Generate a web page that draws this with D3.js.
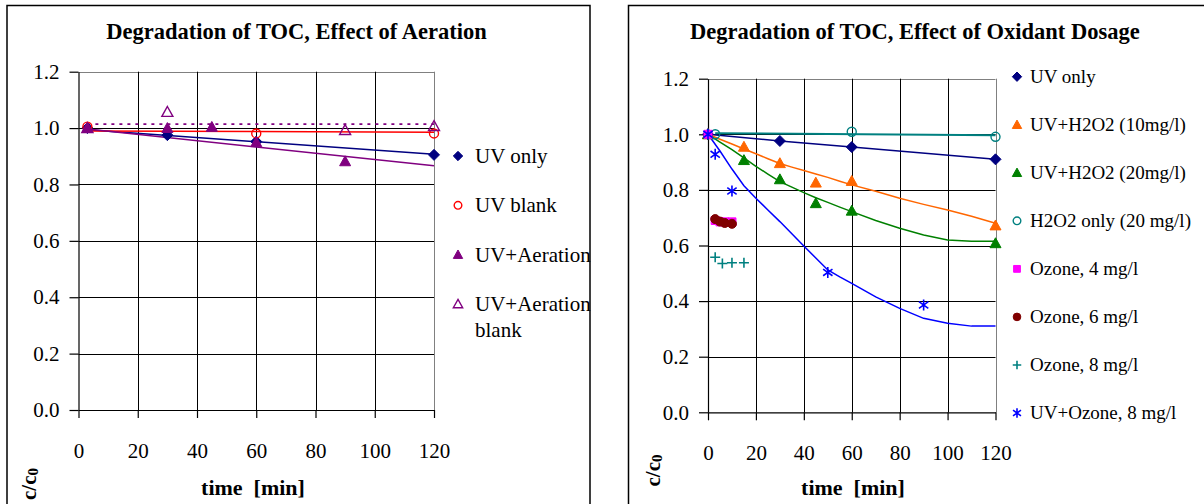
<!DOCTYPE html>
<html>
<head>
<meta charset="utf-8">
<script src="https://cdn.jsdelivr.net/npm/d3@7"></script>
<style>
  body { margin: 0; background: #fff; }
</style>
</head>
<body>
<div id="chart"></div>
<script>
var fontStack = "'Liberation Serif', Tinos, 'Times New Roman', Times, 'DejaVu Serif', serif";

// ---- tick labels
var xTicks = [0, 20, 40, 60, 80, 100, 120];
var yTicks = [0, 0.2, 0.4, 0.6, 0.8, 1.0, 1.2];

// ---- left chart: effect of aeration
var aerNames = ["UV only", "UV blank", "UV+Aeration", "UV+Aeration blank"];
var aerUvOnlyT = [3, 30, 60, 120];
var aerUvOnlyV = [1.0, 0.975, 0.952, 0.905];
var aerUvBlankT = [3, 60, 120];
var aerUvBlankV = [1.005, 0.981, 0.981];
var aerAirT = [3, 30, 45, 60, 90];
var aerAirV = [1.0, 1.0, 1.004, 0.95, 0.882];
var aerAirBlankT = [3, 30, 90, 120];
var aerAirBlankV = [1.0, 1.057, 0.993, 1.007];
// trend lines
var aerTrendT = [3, 120];
var aerUvOnlyTrend = [0.994, 0.907];
var aerUvBlankTrend = [0.99, 0.985];
var aerAirTrend = [0.997, 0.866];
var aerAirBlankTrend = [1.014, 1.014];

// ---- right chart: effect of oxidant dosage
var oxNames = ["UV only", "UV+H2O2 (10mg/l)", "UV+H2O2 (20mg/l)", "H2O2 only (20 mg/l)",
               "Ozone, 4 mg/l", "Ozone, 6 mg/l", "Ozone, 8 mg/l", "UV+Ozone, 8 mg/l"];
var oxUvOnlyT = [0, 30, 60, 120];
var oxUvOnlyV = [1.0, 0.976, 0.954, 0.91];
var oxH10T = [0, 15, 30, 45, 60, 120];
var oxH10V = [1.0, 0.955, 0.896, 0.826, 0.832, 0.672];
var oxH20T = [0, 15, 30, 45, 60, 120];
var oxH20V = [1.0, 0.907, 0.838, 0.752, 0.725, 0.608];
var oxH2O2T = [3, 60, 120];
var oxH2O2V = [1.0, 1.009, 0.991];
var oxOz4T = [0, 3, 5, 7, 10];
var oxOz4V = [1.0, 0.69, 0.685, 0.685, 0.685];
var oxOz6T = [3, 5, 7, 10];
var oxOz6V = [0.695, 0.686, 0.681, 0.678];
var oxOz8T = [3, 6, 10, 15];
var oxOz8V = [0.558, 0.535, 0.538, 0.538];
var oxUvOzT = [0, 3, 10, 50, 90];
var oxUvOzV = [1.0, 0.928, 0.796, 0.503, 0.386];
// fitted curves
var fitT = [0, 5, 10, 15, 20, 25, 30, 35, 40, 45, 50, 55, 60, 70, 80, 90, 100, 110, 120];
var fitH10 = [1.0, 0.982, 0.965, 0.947, 0.93, 0.912, 0.895, 0.882, 0.87, 0.857, 0.845, 0.831, 0.818, 0.795, 0.77, 0.748, 0.728, 0.705, 0.68];
var fitH20 = [1.0, 0.972, 0.945, 0.915, 0.885, 0.857, 0.83, 0.81, 0.79, 0.772, 0.755, 0.738, 0.722, 0.69, 0.662, 0.638, 0.62, 0.615, 0.615];
var fitUvOz = [1.0, 0.94, 0.875, 0.815, 0.77, 0.728, 0.686, 0.642, 0.598, 0.555, 0.512, 0.487, 0.464, 0.415, 0.374, 0.338, 0.32, 0.31, 0.31];
var oxH2O2TrendT = [3, 120];
var oxH2O2Trend = [1.004, 0.997];

// marker shapes, size = r*r
var shapes = {
  diamond: { draw: function(c, s) { var r = Math.sqrt(s); c.moveTo(0, -r); c.lineTo(r, 0); c.lineTo(0, r); c.lineTo(-r, 0); c.closePath(); } },
  triangle: { draw: function(c, s) { var r = Math.sqrt(s); c.moveTo(0, -r); c.lineTo(r, r * 0.8); c.lineTo(-r, r * 0.8); c.closePath(); } },
  circle: { draw: function(c, s) { var r = Math.sqrt(s); c.moveTo(r, 0); c.arc(0, 0, r, 0, 2 * Math.PI); } },
  square: { draw: function(c, s) { var r = Math.sqrt(s); c.rect(-r, -r, 2 * r, 2 * r); } },
  plus: { draw: function(c, s) { var r = Math.sqrt(s); c.moveTo(-r, 0); c.lineTo(r, 0); c.moveTo(0, -r); c.lineTo(0, r); } },
  star: { draw: function(c, s) { var r = Math.sqrt(s); c.moveTo(0, -r); c.lineTo(0, r); c.moveTo(-r * 0.85, -r * 0.6); c.lineTo(r * 0.85, r * 0.6); c.moveTo(-r * 0.85, r * 0.6); c.lineTo(r * 0.85, -r * 0.6); } }
};

var svg = d3.select("#chart").append("svg")
  .attr("width", 1204).attr("height", 504);

function zip(t, v) { return t.map(function(d, i) { return [d, v[i]]; }); }

function drawMarker(g, shape, size, color, filled, x, y) {
  var open = !filled || shape == "plus" || shape == "star";
  g.append("path")
    .attr("d", d3.symbol().type(shapes[shape]).size(size * size)())
    .attr("transform", "translate(" + x + "," + y + ")")
    .attr("fill", open ? "none" : color)
    .attr("stroke", color)
    .attr("stroke-width", (shape == "plus" || shape == "star") ? 1.6 : (filled ? 1 : 1.4));
}

function drawPanel(p) {
  var x = d3.scaleLinear().domain([0, 120]).range([p.left, p.right]);
  var y = d3.scaleLinear().domain([0, 1.2]).range([p.bottom, p.top]);
  var g = svg.append("g");

  // outer frame
  g.append("path")
    .attr("d", "M" + p.frame[0] + ",510V" + p.frame[1] + "H" + p.frame[2] + "V510")
    .attr("fill", "none").attr("stroke", "#000").attr("stroke-width", 1.5);

  g.append("text").attr("x", p.titleX).attr("y", 38.5)
    .attr("text-anchor", "middle").style("font-size", "22.5px").style("font-weight", "bold")
    .text(p.title);

  // grid
  g.selectAll(".hg").data(yTicks.slice(1)).enter().append("line")
    .attr("x1", p.left).attr("x2", p.right)
    .attr("y1", function(d) { return Math.round(y(d)) + 0.5; })
    .attr("y2", function(d) { return Math.round(y(d)) + 0.5; })
    .attr("stroke", function(d) { return d == 1.2 ? "#808080" : "#000"; });
  g.selectAll(".vg").data(xTicks.slice(1)).enter().append("line")
    .attr("y1", p.top).attr("y2", p.bottom)
    .attr("x1", function(d) { return Math.round(x(d)) + 0.5; })
    .attr("x2", function(d) { return Math.round(x(d)) + 0.5; })
    .attr("stroke", function(d) { return d == 120 ? "#808080" : "#000"; });

  // axes
  var ya = g.append("g").attr("transform", "translate(" + p.left + ",0)")
    .call(d3.axisLeft(y).tickValues(yTicks).tickSize(9).tickSizeOuter(0).tickPadding(10).tickFormat(d3.format(".1f")));
  var xa = g.append("g").attr("transform", "translate(0," + p.bottom + ")")
    .call(d3.axisBottom(x).tickValues(xTicks).tickSize(8).tickSizeOuter(0).tickPadding(25).tickFormat(d3.format("d")));
  [ya, xa].forEach(function(a) {
    a.attr("font-family", null).attr("font-size", null);
    a.selectAll("text").style("font-size", "21px").attr("fill", "#000");
    a.selectAll("line, path").attr("stroke", "#000").attr("stroke-width", 1.2);
  });

  // axis titles
  g.append("text").attr("x", p.xTitleX).attr("y", 495)
    .attr("text-anchor", "middle").style("font-size", "22px").style("font-weight", "bold")
    .style("white-space", "pre").text("time  [min]");
  var yt = g.append("text")
    .attr("transform", "translate(" + p.yTitle[0] + "," + p.yTitle[1] + ") rotate(-90)")
    .attr("text-anchor", "middle").style("font-size", "21px").style("font-weight", "bold");
  yt.append("tspan").text("c/c");
  yt.append("tspan").style("font-size", "15px").attr("dy", 2).text("0");

  // lines
  var line = d3.line().x(function(d) { return x(d[0]); }).y(function(d) { return y(d[1]); });
  p.lines.forEach(function(l) {
    g.append("path").attr("d", line(zip(l.t, l.v)))
      .attr("fill", "none").attr("stroke", l.color).attr("stroke-width", l.width || 1.5)
      .attr("stroke-dasharray", l.dash || null);
  });

  // markers
  p.series.forEach(function(s) {
    zip(s.t, s.v).forEach(function(d) {
      drawMarker(g, s.shape, s.size, s.color, s.filled, x(d[0]), y(d[1]));
    });
  });

  // legend
  var ly = d3.scaleLinear().domain([0, p.series.length - 1]).range(p.legendY);
  p.series.forEach(function(s, i) {
    var cy = ly(i);
    drawMarker(g, s.shape, s.legendSize || s.size * 0.85, s.color, s.filled, p.legendX, cy);
    var t = g.append("text").attr("x", p.legendX + p.legendGap).attr("y", cy + p.legendFont * 0.33)
      .style("font-size", p.legendFont + "px");
    var parts = s.label.split("\n");
    parts.forEach(function(part, k) {
      t.append("tspan").attr("x", p.legendX + p.legendGap).attr("dy", k == 0 ? 0 : 26).text(part);
    });
  });
}

drawPanel({
  frame: [7, 5.5, 590],
  left: 78.5, right: 434, top: 71.7, bottom: 410,
  title: "Degradation of TOC, Effect of Aeration", titleX: 296.5,
  xTitleX: 253, yTitle: [36, 484],
  legendX: 458, legendGap: 17, legendFont: 21, legendY: [156, 304],
  lines: [
    { t: aerTrendT, v: aerUvOnlyTrend, color: "#000080" },
    { t: aerTrendT, v: aerUvBlankTrend, color: "#FF0000" },
    { t: aerTrendT, v: aerAirTrend, color: "#800080" },
    { t: aerTrendT, v: aerAirBlankTrend, color: "#800080", dash: "3,5", width: 1.8 }
  ],
  series: [
    { label: aerNames[0], t: aerUvOnlyT, v: aerUvOnlyV, shape: "diamond", size: 5.5, color: "#000080", filled: true },
    { label: aerNames[1], t: aerUvBlankT, v: aerUvBlankV, shape: "circle", size: 4.5, color: "#FF0000", filled: false },
    { label: aerNames[2], t: aerAirT, v: aerAirV, shape: "triangle", size: 5.5, color: "#800080", filled: true },
    { label: "UV+Aeration\nblank", t: aerAirBlankT, v: aerAirBlankV, shape: "triangle", size: 5.5, color: "#800080", filled: false }
  ]
});

drawPanel({
  frame: [628.5, 5.5, 1215],
  left: 708, right: 995.5, top: 78.7, bottom: 412.3,
  title: "Degradation of TOC, Effect of Oxidant Dosage", titleX: 914.8,
  xTitleX: 853, yTitle: [660, 470.5],
  legendX: 1017, legendGap: 13, legendFont: 19, legendY: [76.7, 413],
  lines: [
    { t: oxUvOnlyT, v: oxUvOnlyV, color: "#000080" },
    { t: fitT, v: fitH10, color: "#FF6600" },
    { t: fitT, v: fitH20, color: "#008000" },
    { t: oxH2O2TrendT, v: oxH2O2Trend, color: "#008080", width: 2 },
    { t: fitT, v: fitUvOz, color: "#0000FF" }
  ],
  series: [
    { label: oxNames[0], t: oxUvOnlyT, v: oxUvOnlyV, shape: "diamond", size: 5.5, color: "#000080", filled: true },
    { label: oxNames[1], t: oxH10T, v: oxH10V, shape: "triangle", size: 5.5, color: "#FF6600", filled: true },
    { label: oxNames[2], t: oxH20T, v: oxH20V, shape: "triangle", size: 5.5, color: "#008000", filled: true },
    { label: oxNames[3], t: oxH2O2T, v: oxH2O2V, shape: "circle", size: 4.5, color: "#008080", filled: false },
    { label: oxNames[4], t: oxOz4T, v: oxOz4V, shape: "square", size: 4, color: "#FF00FF", filled: true },
    { label: oxNames[5], t: oxOz6T, v: oxOz6V, shape: "circle", size: 4.5, color: "#800000", filled: true },
    { label: oxNames[6], t: oxOz8T, v: oxOz8V, shape: "plus", size: 5, color: "#008080", filled: false },
    { label: oxNames[7], t: oxUvOzT, v: oxUvOzV, shape: "star", size: 5.5, color: "#0000FF", filled: false }
  ]
});

// same serif face everywhere
svg.selectAll("text").style("font-family", fontStack);
</script>
</body>
</html>
